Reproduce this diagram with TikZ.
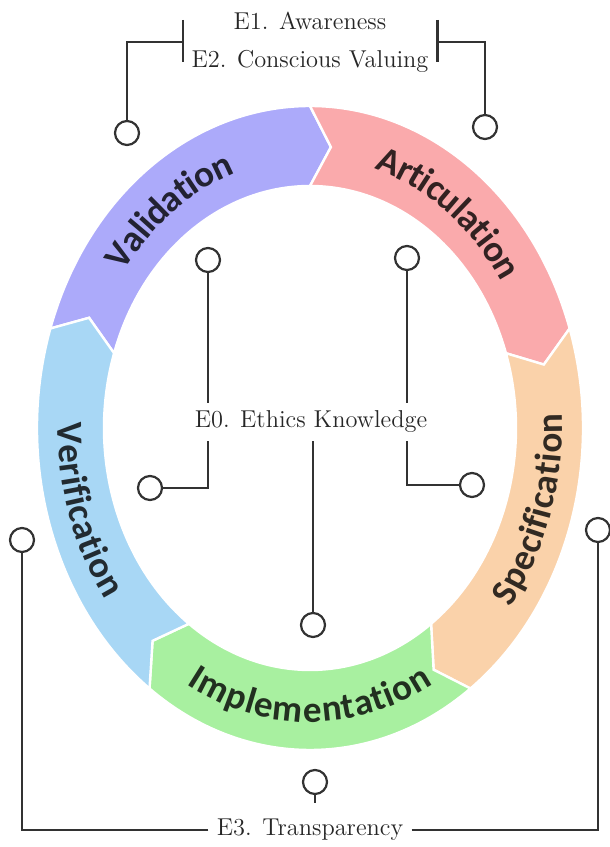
\documentclass[tikz,border=0pt]{standalone}
\usepackage{fontspec}
\usepackage{tikz}
\usetikzlibrary{decorations.text}
\newfontfamily\ringfont{Carlito}
\newcommand\ringlbl{\ringfont\bfseries\fontsize{18.5}{22}\selectfont}
\definecolor{valc}{RGB}{172,170,250}
\definecolor{artc}{RGB}{250,170,172}
\definecolor{spec}{RGB}{250,210,170}
\definecolor{impc}{RGB}{168,240,160}
\definecolor{verc}{RGB}{168,215,245}
\definecolor{wirec}{RGB}{50,50,50}

\begin{document}
\begin{tikzpicture}[x=0.5pt,y=0.5pt,
  seg/.style={draw=white, line width=1.2pt},
  ringtext/.style={decorate, decoration={text along path, text align=center, raise=-6pt}},
  etext/.style={font=\fontsize{12.2}{14}\selectfont, text=black!85, inner xsep=4pt, inner ysep=4pt},
  knob/.style={draw=wirec, circle, fill=white, minimum size=12pt, inner sep=0pt, line width=1.1pt},
  wire/.style={draw=wirec, line width=1.1pt}]
\useasboundingbox (0,0) rectangle (610,847);

% ring of five stages
\begin{scope}[shift={(310,419)}]
\foreach \s/\e/\col in {162/90/valc,90/18/artc,18/-54/spec,-54/-126/impc,-126/-198/verc}
  \filldraw[seg, fill=\col] (\s:273 and 322) arc[start angle=\s, end angle=\e, x radius=273, y radius=322]
    -- ({\e-5}:240 and 282) -- (\e:206 and 242)
    arc[start angle=\e, end angle=\s, x radius=206, y radius=242]
    -- ({\s-5}:240 and 282) -- cycle;
\path[ringtext, decoration={text={|\ringlbl|Validation}, text color=valc!20!black}]
  (162:240 and 282) arc[start angle=162, end angle=90, x radius=240, y radius=282];
\path[ringtext, decoration={text={|\ringlbl|Articulation}, text color=artc!20!black}]
  (90:240 and 282) arc[start angle=90, end angle=18, x radius=240, y radius=282];
\path[ringtext, decoration={text={|\ringlbl|Specification}, text color=spec!20!black}]
  (-54:240 and 282) arc[start angle=-54, end angle=18, x radius=240, y radius=282];
\path[ringtext, decoration={text={|\ringlbl|Implementation}, text color=impc!20!black}]
  (-126:240 and 282) arc[start angle=-126, end angle=-54, x radius=240, y radius=282];
\path[ringtext, decoration={text={|\ringlbl|Verification}, text color=verc!20!black}]
  (162:240 and 282) arc[start angle=162, end angle=234, x radius=240, y radius=282];
\end{scope}

% E1 / E2 on top
\node[etext, align=center, minimum width=127pt] at (310,805) (aware) {E1. Awareness\\[5pt]E2. Conscious Valuing};
\node[knob] at (127,714) (kv1) {};
\node[knob] at (485,720) (kv2) {};
\draw[wire] ([yshift=11pt]aware.west) -- ([yshift=-10pt]aware.west);
\draw[wire] ([yshift=11pt]aware.east) -- ([yshift=-10pt]aware.east);
\draw[wire] (aware.west) -| (kv1);
\draw[wire] (aware.east) -| (kv2);

% E0 in the middle
\node[etext] at (311,425) (ethics) {E0. Ethics Knowledge};
\node[knob] at (208,587) (k01) {};
\node[knob] at (407,589) (k02) {};
\node[knob] at (150,359) (k03) {};
\node[knob] at (472,362) (k04) {};
\node[knob] at (313,222) (k05) {};
\draw[wire] (k01) -- (k01 |- ethics.north);
\draw[wire] (k02) -- (k02 |- ethics.north);
\draw[wire] (k01 |- ethics.south) |- (k03);
\draw[wire] (k02 |- ethics.south) |- (k04);
\draw[wire] (ethics.south -| k05) -- (k05);

% E3 at the bottom
\node[etext] at (310,17) (transp) {E3. Transparency};
\node[knob] at (22,307) (kl) {};
\node[knob] at (598,317) (kr) {};
\node[knob] at (315,65) (kb) {};
\coordinate (kbend) at (315,44);
\draw[wire] (transp.west) -| (kl);
\draw[wire] (transp.east) -| (kr);
\draw[wire] (kb) -- (kbend);
\end{tikzpicture}
\end{document}
